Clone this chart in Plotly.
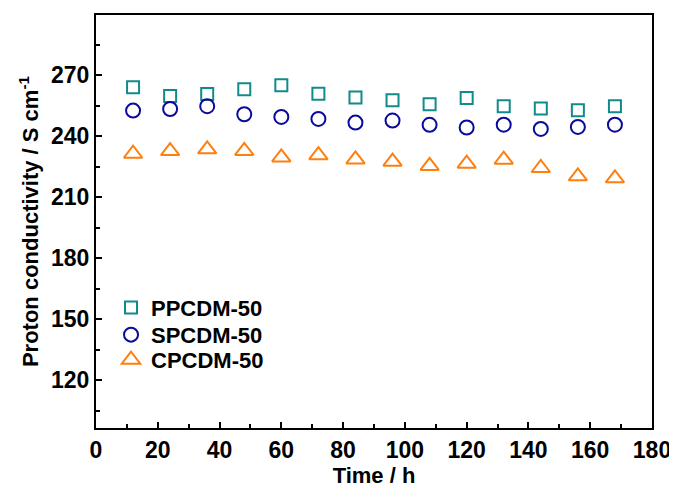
import plotly.graph_objects as go

time_h = [12, 24, 36, 48, 60, 72, 84, 96, 108, 120, 132, 144, 156, 168]
ppcdm = [264.0, 259.7, 260.7, 263.0, 265.0, 260.8, 258.9, 257.6, 255.6, 258.7, 254.7, 253.5, 252.7, 254.7]
spcdm = [252.5, 253.3, 254.7, 250.7, 249.4, 248.4, 246.6, 247.6, 245.5, 244.2, 245.6, 243.5, 244.5, 245.6]
cpcdm = [231.3, 232.6, 233.5, 232.7, 229.5, 230.6, 228.5, 227.4, 225.3, 226.4, 228.4, 224.3, 220.2, 219.2]
series_names = ["PPCDM-50", "SPCDM-50", "CPCDM-50"]

FONT = "Liberation Sans, Arial, sans-serif"

fig = go.Figure()
fig.add_trace(go.Scatter(x=time_h, y=ppcdm, mode="markers", name="<b>%s</b>" % series_names[0],
                         legend="legend",
                         marker=dict(symbol="square-open", size=12, color="#138a8a",
                                     line=dict(width=2, color="#138a8a"))))
fig.add_trace(go.Scatter(x=time_h, y=spcdm, mode="markers", name="<b>%s</b>" % series_names[1],
                         legend="legend2",
                         marker=dict(symbol="circle-open", size=14, color="#0a0a9c",
                                     line=dict(width=2, color="#0a0a9c"))))
fig.add_trace(go.Scatter(x=time_h, y=cpcdm, mode="markers", name="<b>%s</b>" % series_names[2],
                         legend="legend3",
                         marker=dict(symbol="triangle-up-open", size=16, color="#ff7f0e",
                                     line=dict(width=2, color="#ff7f0e"))))

leg_common = dict(x=0.027, xanchor="left", yanchor="middle",
                  bgcolor="rgba(0,0,0,0)", borderwidth=0,
                  font=dict(family=FONT, size=22, color="black"),
                  itemsizing="trace")

# page body adds an 8px offset; compensate with figure size and margins
fig.update_layout(
    width=669, height=480,
    margin=dict(l=88, r=25, t=7, b=60),
    paper_bgcolor="white", plot_bgcolor="white",
    font=dict(family=FONT, size=22, color="black"),
    showlegend=True,
    legend=dict(y=0.291, **leg_common),
    legend2=dict(y=0.2256, **leg_common),
    legend3=dict(y=0.165, **leg_common),
)

fig.update_xaxes(
    range=[0, 180], tick0=0, dtick=20, automargin=False,
    showline=True, linecolor="black", linewidth=2, mirror=True,
    ticks="inside", ticklen=6, tickwidth=2, tickcolor="black",
    minor=dict(ticks="inside", dtick=10, ticklen=4, tickwidth=2, tickcolor="black"),
    showgrid=False, zeroline=False,
    tickfont=dict(family=FONT, size=23, color="black"),
    title=dict(text="<b>Time / h</b>", standoff=2, font=dict(family=FONT, size=22, color="black")),
    tickprefix="<b>", ticksuffix="</b>",
)
fig.update_yaxes(
    range=[96.5, 299.5], tick0=0, dtick=30, automargin=False,
    showline=True, linecolor="black", linewidth=2, mirror=True,
    ticks="inside", ticklen=6, tickwidth=2, tickcolor="black",
    minor=dict(ticks="inside", dtick=15, ticklen=4, tickwidth=2, tickcolor="black"),
    showgrid=False, zeroline=False,
    tickfont=dict(family=FONT, size=23, color="black"),
    title=dict(text="<b>Proton conductivity / S cm<sup>-1</sup></b>", standoff=6,
               font=dict(family=FONT, size=22, color="black")),
    tickprefix="<b>", ticksuffix="</b>",
)

fig.write_html("out.html")
